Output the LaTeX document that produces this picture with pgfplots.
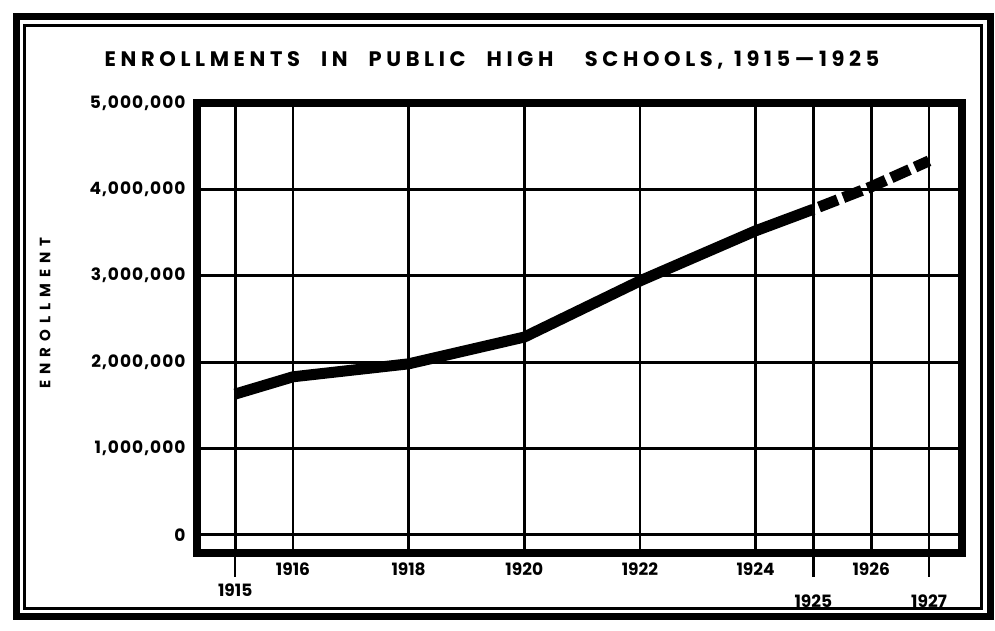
\documentclass[border=0pt]{standalone}
\usepackage{fontspec}
\setmainfont{Poppins}
\usepackage{pgfplots}
\pgfplotsset{compat=1.18}
\begin{document}
\begin{tikzpicture}
\useasboundingbox (0pt,0pt) rectangle (995pt,631pt);
\draw[line width=7pt] (16pt,614pt) rectangle (990pt,14pt);
\draw[line width=3pt] (24.5pt,605pt) rectangle (981.5pt,22.5pt);
\node[font=\bfseries\fontsize{21}{24}\selectfont\addfontfeature{LetterSpace=22}] at (492pt,571pt) {ENROLLMENTS\quad IN\quad PUBLIC\quad HIGH\quad\enspace SCHOOLS,\enspace 1915—1925};
\node[rotate=90, font=\bfseries\fontsize{15}{18}\selectfont\addfontfeature{LetterSpace=40}] at (45pt,318pt) {ENROLLMENT};
\begin{axis}[
  at={(197pt,78pt)}, anchor=south west,
  scale only axis, width=765pt, height=450pt,
  xmin=1914.34, xmax=1927.57, ymin=-0.21, ymax=5,
  axis line style={line width=8pt, line join=miter},
  xtick={1916,1918,1920,1922,1924,1926},
  xticklabels={1916,1918,1920,1922,1924,1926},
  extra x ticks={1915,1925,1927},
  extra x tick labels={\raisebox{10pt}[12pt][0pt]{1915},1925,1927},
  extra x tick style={major tick length=24pt, tick align=outside,
     tick style={line width=2.5pt, black},
     xticklabel style={yshift=-8pt}},
  ytick={0,1,2,3,4,5},
  yticklabels={0,{1,000,000},{2,000,000},{3,000,000},{4,000,000},{5,000,000}},
  major tick length=0pt,
  tick pos=bottom,
  xmajorgrids, ymajorgrids,
  grid style={line width=2.8pt, black},
  xticklabel style={font=\bfseries\fontsize{17}{19}\selectfont, yshift=-6pt},
  yticklabel style={font=\bfseries\fontsize{17}{19}\selectfont\addfontfeature{LetterSpace=6}, xshift=-8pt},
  /pgf/number format/assume math mode=true,
]
\addplot[line width=11pt, line join=round] coordinates {(1915,1.63)(1916,1.83)(1918,1.98)(1920,2.29)(1922,2.94)(1924,3.52)(1925,3.77)};
\addplot[line width=11pt, dash pattern=on 20pt off 6pt, dash phase=20pt] coordinates {(1925,3.77)(1926,4.03)(1927,4.33)};
\end{axis}
\end{tikzpicture}
\end{document}
